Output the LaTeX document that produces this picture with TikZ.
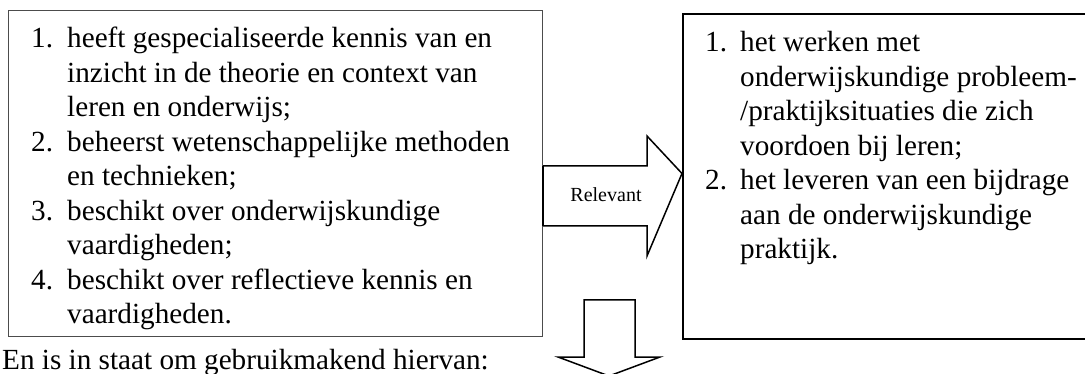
\documentclass[tikz,border=0pt]{standalone}
\usepackage{fontspec}
\setmainfont{Liberation Serif}
\begin{document}
\begin{tikzpicture}[x=1pt,y=-1pt,
  txt/.style={anchor=base west,inner sep=0pt,font=\fontsize{29.2}{34.5}\selectfont},
  lbox/.style={draw=black!70,line width=1pt},
  rbox/.style={draw=black,line width=1.6pt},
  bigarrow/.style={draw=black,line width=1.5pt,line join=miter}]
\useasboundingbox (0,0) rectangle (1085,374);
% left box
\node[lbox,inner sep=0pt,minimum width=534pt,minimum height=326pt,anchor=north west] (L) at (8,10) {};
% right box
\node[rbox,inner sep=0pt,minimum width=420pt,minimum height=325pt,anchor=north west] (R) at (682,13) {};
% left items
\node[txt] (ln1) at (31,47.7) {1.};
\node[txt] (la1) at (67,47.7) {heeft gespecialiseerde kennis van en};
\node[txt] (la2) at (67,82.2) {inzicht in de theorie en context van};
\node[txt] (la3) at (67,116.7) {leren en onderwijs;};
\node[txt] (ln2) at (31,151.2) {2.};
\node[txt] (lb1) at (67,151.2) {beheerst wetenschappelijke methoden};
\node[txt] (lb2) at (67,185.7) {en technieken;};
\node[txt] (ln3) at (31,220.2) {3.};
\node[txt] (lc1) at (67,220.2) {beschikt over onderwijskundige};
\node[txt] (lc2) at (67,254.7) {vaardigheden;};
\node[txt] (ln4) at (31,289.2) {4.};
\node[txt] (ld1) at (67,289.2) {beschikt over reflectieve kennis en};
\node[txt] (ld2) at (67,323.7) {vaardigheden.};
% right items
\node[txt] (rn1) at (705,52) {1.};
\node[txt] (ra1) at (740,52) {het werken met};
\node[txt] (ra2) at (740,86.5) {onderwijskundige probleem-};
\node[txt] (ra3) at (740,121) {/praktijksituaties die zich};
\node[txt] (ra4) at (740,155.5) {voordoen bij leren;};
\node[txt] (rn2) at (705,190) {2.};
\node[txt] (rb1) at (740,190) {het leveren van een bijdrage};
\node[txt] (rb2) at (740,224.5) {aan de onderwijskundige};
\node[txt] (rb3) at (740,259) {praktijk.};
% bottom text
\node[txt] (bot) at (2,369) {En is in staat om gebruikmakend hiervan:};
% right arrow
\coordinate (ra) at (543,166);
\draw[bigarrow,fill=white] (ra) -- (647,166) -- (647,136) -- (L.east -| R.west) -- (647,256) -- (647,226) -- (543,226);
\draw[bigarrow] (543,166) -- (543,226);
\node[inner sep=0pt,anchor=base,font=\fontsize{20}{24}\selectfont] (rel) at (606,202) {Relevant};
% down arrow
\coordinate (da) at (584,300);
\draw[bigarrow,fill=white] (da) -- (635,300) -- (635,357) -- (660,357) -- (609,376) -- (558,357) -- (584,357) -- cycle;
\end{tikzpicture}
\end{document}
